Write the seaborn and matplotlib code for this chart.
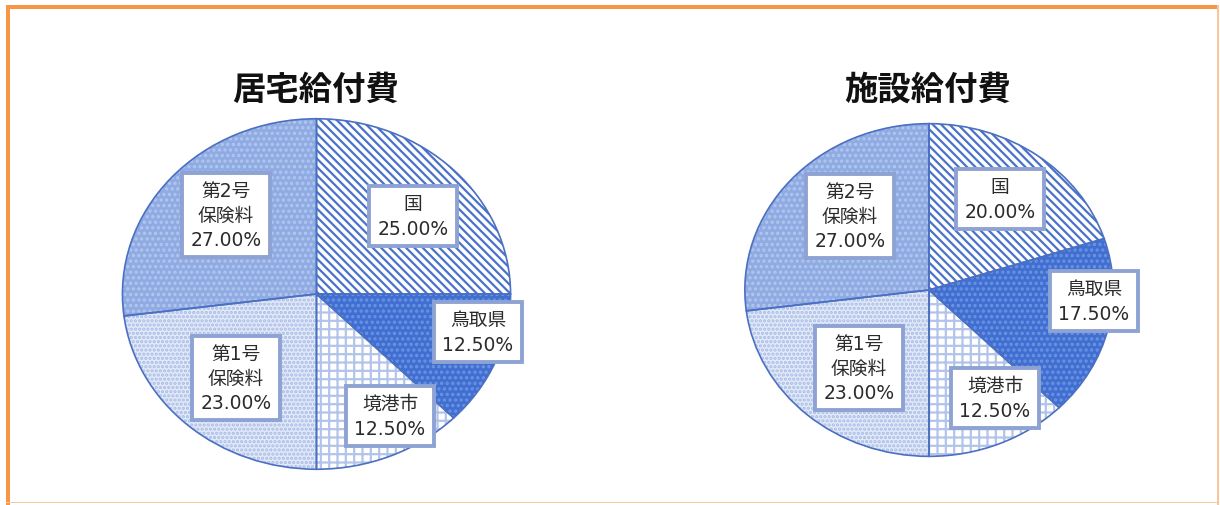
import numpy as np
import pandas as pd
import matplotlib
matplotlib.use("Agg")
import matplotlib.pyplot as plt
import seaborn as sns
from matplotlib.patches import Rectangle

sns.set_theme(style="white")
plt.rcParams['font.family'] = ['DejaVu Sans', 'Noto Sans CJK JP']
plt.rcParams['hatch.linewidth'] = 1.6

# data
categories = ["国", "鳥取県", "境港市", "第1号\n保険料", "第2号\n保険料"]
kyotaku = [25.0, 12.5, 12.5, 23.0, 27.0]
shisetsu = [20.0, 17.5, 12.5, 23.0, 27.0]
titles = ["居宅給付費", "施設給付費"]

# styles
faces = ["#ffffff", "#3f6fd2", "#ffffff", "#e2e9f8", "#8fabe3"]
hatch_cols = ["#4a72c8", "#6f93de", "#b2c4ea", "#a9bce6", "#b3c6ec"]
hatches = ["\\\\\\\\", "...", "++", "....", "..."]

W, H = 1220, 506
fig = plt.figure(figsize=(W / 100, H / 100), dpi=100)

# pie boxes in pixels: cx, cy, rx, ry
boxes = [(316.5, 295, 196, 177), (929, 291, 186, 168)]
# label centres in pixels
label_pos = [
    [(413, 217), (478, 333), (390, 417), (236, 379), (226, 216)],
    [(1000, 200), (1094, 302), (995, 399), (859, 369), (850, 217)],
]
title_pos = [(316, 90), (928, 90)]

for k, vals in enumerate([kyotaku, shisetsu]):
    cx, cy, rx, ry = boxes[k]
    ax = fig.add_axes([(cx - rx) / W, (H - cy - ry) / H, 2 * rx / W, 2 * ry / H])
    df = pd.DataFrame({"cat": categories, "val": vals})
    wedges, _ = ax.pie(df["val"], startangle=90, counterclock=False,
                       colors=faces, radius=1,
                       wedgeprops=dict(linewidth=0))
    for w, h, hc in zip(wedges, hatches, hatch_cols):
        w.set_hatch(h)
        w.set_edgecolor(hc)
    # outlines
    ax.pie(df["val"], startangle=90, counterclock=False, radius=1,
           colors=["none"] * 5,
           wedgeprops=dict(linewidth=1.2, edgecolor="#4b6fc2", fill=False))
    ax.set_aspect("auto")
    ax.set_xlim(-1.01, 1.01)
    ax.set_ylim(-1.01, 1.01)
    ax.axis("off")

    for (px, py), name, v in zip(label_pos[k], df["cat"], df["val"]):
        fig.text(px / W, 1 - py / H, f"{name}\n{v:.2f}%", ha="center", va="center",
                 fontsize=13.5, color="#2b2b2b", linespacing=1.35,
                 bbox=dict(boxstyle="square,pad=0.45", fc="white", ec="#8ea3d3", lw=2.8))

    tx, ty = title_pos[k]
    fig.text(tx / W, 1 - ty / H, titles[k], ha="center", va="center",
             fontsize=24, color="#111111", fontweight="bold")

# orange frame
fig.patches.append(Rectangle((6 / W, 0), 4 / W, 1 - 6 / H, transform=fig.transFigure,
                             fc="#f79646", ec="none"))
fig.patches.append(Rectangle((6 / W, 1 - 10 / H), 1 - 8 / W, 4 / H, transform=fig.transFigure,
                             fc="#f79646", ec="none"))
fig.patches.append(Rectangle((1217 / W, 0), 1.5 / W, 1 - 6 / H, transform=fig.transFigure,
                             fc="#f9c79a", ec="none"))
fig.patches.append(Rectangle((6 / W, 2 / H), 1 - 8 / W, 1.5 / H, transform=fig.transFigure,
                             fc="#f9c79a", ec="none"))

fig.savefig("out.png", dpi=100)
